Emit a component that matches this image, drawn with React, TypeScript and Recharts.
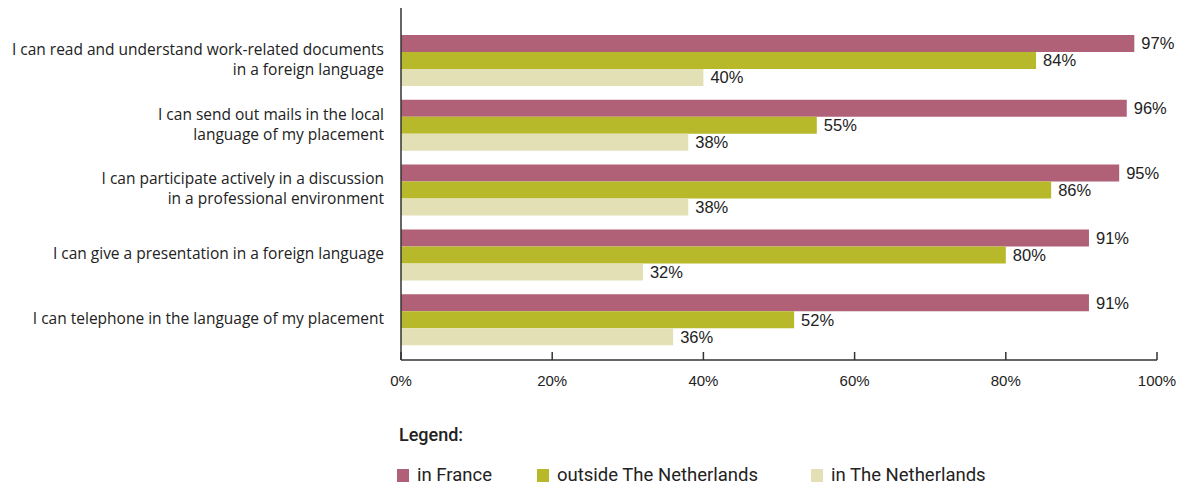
import React from "react";
import { BarChart, Bar, XAxis, YAxis, LabelList } from "recharts";

const statements = [
  "I can read and understand work-related documents\nin a foreign language",
  "I can send out mails in the local\nlanguage of my placement",
  "I can participate actively in a discussion\nin a professional environment",
  "I can give a presentation in a foreign language",
  "I can telephone in the language of my placement",
];
const inFrance = [97, 96, 95, 91, 91];
const outsideNL = [84, 55, 86, 80, 52];
const inNL = [40, 38, 38, 32, 36];
const xTicks = [0, 20, 40, 60, 80, 100];

const seriesInfo = [
  { key: "france", name: "in France", color: "#b06077" },
  { key: "outside", name: "outside The Netherlands", color: "#b8b82b" },
  { key: "nl", name: "in The Netherlands", color: "#e2e0b4" },
];

const data = statements.map((s, i) => ({
  statement: s,
  france: inFrance[i],
  outside: outsideNL[i],
  nl: inNL[i],
}));

const LABEL_FONT = "'Open Sans', sans-serif";
const NUM_FONT = "'Liberation Sans', Arial, sans-serif";
const LEGEND_FONT = "Roboto, sans-serif";

function CategoryTick(props: any) {
  const { x, y, payload } = props;
  const lines = String(payload.value).split("\n");
  const lh = 20;
  const start = -((lines.length - 1) * lh) / 2;
  return (
    <text x={x} y={y} textAnchor="end" fill="#222" fontSize={15.5} fontFamily={LABEL_FONT}>
      {lines.map((l, i) => (
        <tspan key={i} x={x} y={y + start + i * lh - 1} dy="0.35em">
          {l}
        </tspan>
      ))}
    </text>
  );
}

function PercentTick(props: any) {
  const { x, y, payload } = props;
  return (
    <g>
      <line x1={x} x2={x} y1={y - 8} y2={y} stroke="#333" strokeWidth={1.5} />
      <text x={x} y={y + 26} textAnchor="middle" fill="#222" fontSize={15} fontFamily={NUM_FONT}>
        {payload.value}%
      </text>
    </g>
  );
}

export default function App() {
  return (
    <div style={{ position: "absolute", left: 0, top: 0, width: 1188, height: 484, background: "#fff" }}>
      <BarChart
        width={1188}
        height={400}
        data={data}
        layout="vertical"
        margin={{ top: 8, right: 31, left: 0, bottom: 10 }}
        barGap={0}
        barSize={17}
      >
        <XAxis
          type="number"
          domain={[0, 100]}
          ticks={xTicks}
          tick={<PercentTick />}
          tickLine={false}
          tickSize={0}
          tickMargin={0}
          axisLine={{ stroke: "#333", strokeWidth: 1.5 }}
          height={30}
        />
        <YAxis
          type="category"
          dataKey="statement"
          width={401}
          tick={<CategoryTick />}
          tickLine={false}
          tickSize={0}
          tickMargin={17}
          axisLine={{ stroke: "#333", strokeWidth: 1.5 }}
          padding={{ top: 20, bottom: 8 }}
          interval={0}
        />
        {seriesInfo.map((s) => (
          <Bar key={s.key} dataKey={s.key} name={s.name} fill={s.color} isAnimationActive={false}>
            <LabelList
              dataKey={s.key}
              position="right"
              offset={7}
              formatter={(v: any) => `${v}%`}
              style={{ fill: "#222", fontSize: 16.5, fontFamily: NUM_FONT }}
            />
          </Bar>
        ))}
      </BarChart>
      <div
        style={{
          position: "absolute",
          left: 399,
          top: 424,
          fontFamily: LEGEND_FONT,
          fontSize: 18,
          fontWeight: 500,
          color: "#222",
        }}
      >
        Legend:
      </div>
      {seriesInfo.map((s, i) => (
        <div
          key={s.key}
          style={{
            position: "absolute",
            left: [397, 537, 811][i],
            top: 464,
            display: "flex",
            alignItems: "center",
            fontFamily: LEGEND_FONT,
            fontSize: 18.5,
            color: "#222",
          }}
        >
          <span style={{ display: "inline-block", width: 12, height: 13, background: s.color, marginRight: 8 }} />
          <span>{s.name}</span>
        </div>
      ))}
    </div>
  );
}
